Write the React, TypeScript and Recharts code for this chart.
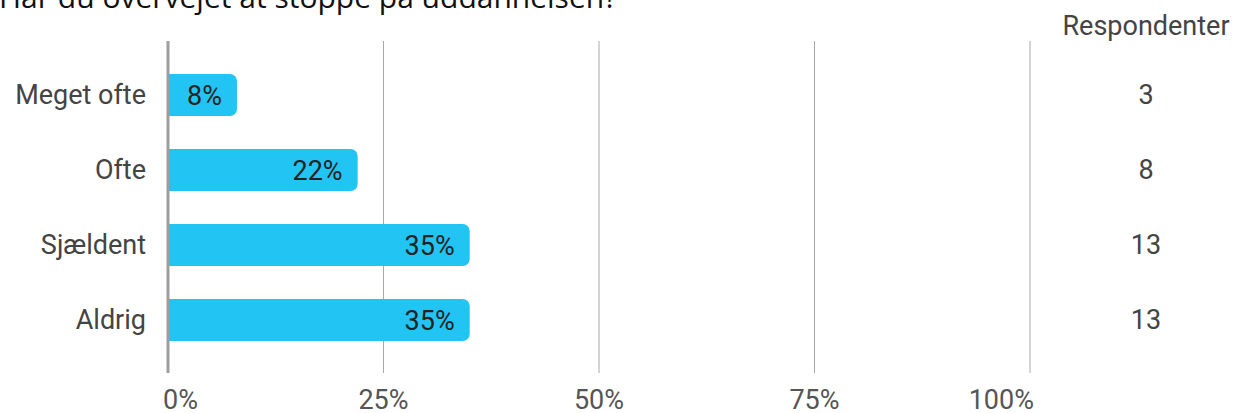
import React from 'react';
import { BarChart, Bar, XAxis, YAxis, CartesianGrid, LabelList } from 'recharts';

const title = 'Har du overvejet at stoppe på uddannelsen?';
const columnHeader = 'Respondenter';
const categories = ['Meget ofte', 'Ofte', 'Sjældent', 'Aldrig'];
const percentages = [8, 22, 35, 35];
const respondents = [3, 8, 13, 13];
const xTicks = [0, 25, 50, 75, 100];

const data = categories.map((name, i) => ({ name, pct: percentages[i], count: respondents[i] }));

const FONT = 'Roboto, sans-serif';
const FS = 27;

const XTick = (props: any) => {
  const { x, y, payload, index } = props;
  const last = xTicks.length - 1;
  const anchor = index === 0 ? 'start' : index === last ? 'end' : 'middle';
  const dx = index === 0 ? -5 : index === last ? 4 : 0;
  return (
    <text x={x + dx} y={y + 28} textAnchor={anchor} fontFamily={FONT} fontSize={FS} fill="#555">
      {payload.value}%
    </text>
  );
};

const LeftTick = (props: any) => {
  const { x, y, payload } = props;
  return (
    <text x={x} y={y} dy="0.36em" textAnchor="end" fontFamily={FONT} fontSize={FS} fill="#444">
      {payload.value}
    </text>
  );
};

const RightTick = (props: any) => {
  const { x, y, index } = props;
  return (
    <text x={x + 108} y={y} dy="0.36em" textAnchor="middle" fontFamily={FONT} fontSize={FS} fill="#444">
      {respondents[index]}
    </text>
  );
};

export default function App() {
  return (
    <div style={{ position: 'fixed', left: 0, top: 0, width: 1234, height: 413, overflow: 'hidden', background: '#fff' }}>
      <svg width={1234} height={413} style={{ position: 'absolute', left: 0, top: 0 }}>
        <text x={-1} y={7.5} fontFamily="'Open Sans', sans-serif" fontSize={30} fill="#111">
          {title}
        </text>
        <text x={1146} y={35} textAnchor="middle" fontFamily={FONT} fontSize={FS} fill="#444">
          {columnHeader}
        </text>
      </svg>
      <div style={{ position: 'absolute', left: 0, top: 0 }}>
        <BarChart
          width={1234}
          height={413}
          data={data}
          layout="vertical"
          margin={{ top: 41, right: 0, bottom: 0, left: 0 }}
        >
          <CartesianGrid horizontal={false} stroke="#a8a8a8" strokeWidth={1} />
          <XAxis
            type="number"
            domain={[0, 100]}
            ticks={xTicks}
            axisLine={false}
            tickLine={false}
            tick={<XTick />}
            height={40}
            interval={0}
          />
          <YAxis
            yAxisId="left"
            type="category"
            dataKey="name"
            width={168}
            axisLine={{ stroke: '#9e9e9e', strokeWidth: 3 }}
            tickLine={false}
            tickMargin={16}
            tick={<LeftTick />}
            padding={{ top: 16, bottom: 16 }}
            interval={0}
          />
          <YAxis
            yAxisId="right"
            orientation="right"
            type="category"
            dataKey="name"
            width={204}
            axisLine={false}
            tickLine={false}
            tick={<RightTick />}
            padding={{ top: 16, bottom: 16 }}
            interval={0}
          />
          <Bar
            yAxisId="left"
            dataKey="pct"
            fill="#22C4F3"
            barSize={42}
            radius={[0, 7, 7, 0]}
            isAnimationActive={false}
          >
            <LabelList
              dataKey="pct"
              position="insideRight"
              offset={15}
              formatter={(v: any) => `${v}%`}
              fontFamily={FONT}
              fontSize={FS}
              fill="#222"
            />
          </Bar>
        </BarChart>
      </div>
    </div>
  );
}
